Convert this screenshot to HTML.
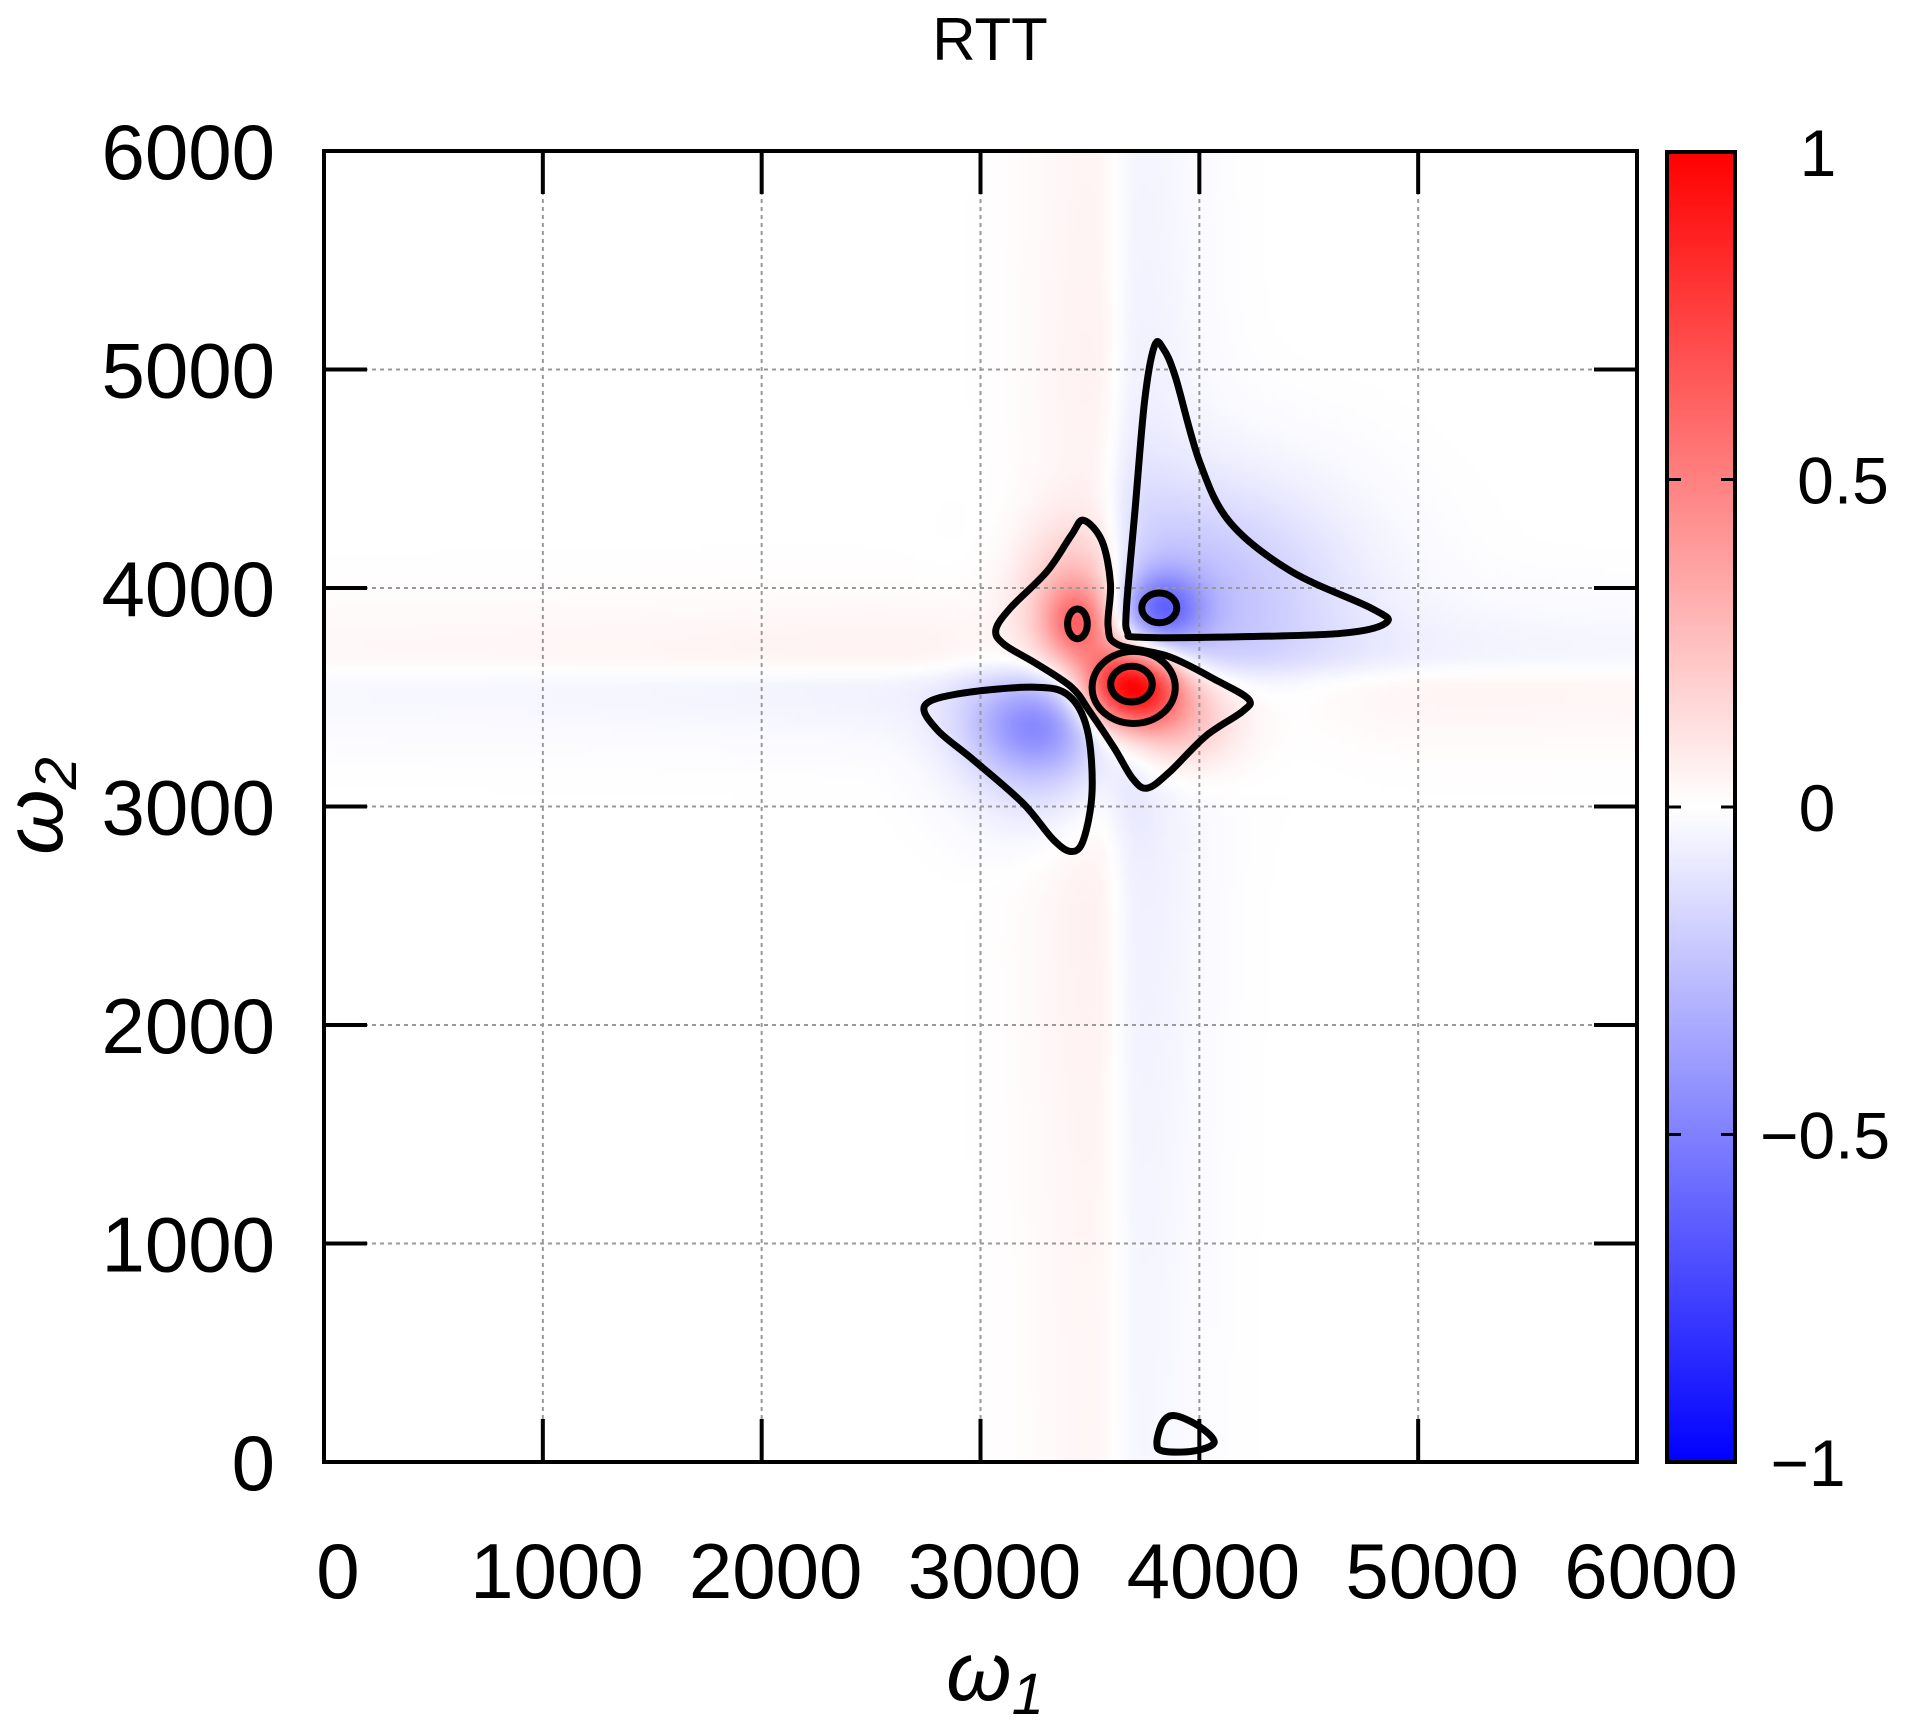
<!DOCTYPE html>
<html><head><meta charset="utf-8"><style>
html,body{margin:0;padding:0;background:#fff}
#wrap{position:relative;width:1905px;height:1728px;overflow:hidden;font-family:"Liberation Sans",sans-serif}
#heat{position:absolute;left:324px;top:151px;width:1313px;height:1311px}
#ov{position:absolute;left:0;top:0}
</style></head><body>
<div id="wrap">
<canvas id="heat" width="263" height="262"></canvas>
<svg id="ov" width="1905" height="1728"></svg>
</div>
<script>
// ---- data ----
const xTicks=[0,1000,2000,3000,4000,5000,6000];
const yTicks=[0,1000,2000,3000,4000,5000,6000];
const cbTicks=[1,0.5,0,-0.5,-1];
const cbLabels=["1","0.5","0","\u22120.5","\u22121"];
// field components (centers in data units)
const peakX=[3690,3440,3830,3260,3430,3880,4050,3300];
const peakY=[3550,3840,3900,3380,3950,3400,4000,3250];
const peakAmp=[1.0,0.35,-0.4,-0.3,0.3,0.3,-0.22,-0.2];
const peakSx=[150,100,130,220,180,200,450,250];
const peakSy=[130,120,120,150,250,160,350,250];
const bandV=[3620,0.08,130];   // center x, amp, width
const bandH=[3620,0.07,110];   // center y, amp, width
// contours (data units)
const contourBlueUpper={x:[3795,3750,3706,3667,3672,3722,4085,4643,4855,4783,4420,4141,4001,3890,3834],y:[5108,4857,4355,3909,3797,3775,3775,3792,3842,3909,4076,4299,4578,4968,5097]};
const contourRedOuter={x:[3471,3555,3594,3583,3628,3862,4085,4225,4197,4030,3862,3762,3695,3611,3499,3416,3248,3109,3070,3137,3304,3416],y:[4310,4215,4020,3825,3741,3686,3574,3491,3435,3323,3156,3084,3128,3268,3435,3546,3658,3741,3808,3909,4076,4243]};
const contourBlueLower={x:[2746,2913,3248,3404,3488,3510,3471,3416,3332,3192,2969,2802],y:[3463,3518,3546,3507,3351,3072,2849,2794,2849,3017,3212,3351]};
const contourBottom={x:[3806,3834,3890,4001,4068,3973,3834],y:[89,184,212,162,89,50,50]};
const ellipseCX=[3817,3443,3700,3690];
const ellipseCY=[3909,3836,3545,3560];
const ellipseRX=[80,45,190,95];
const ellipseRY=[68,68,165,82];

// ---- axes ----
const PL=324,PR=1637,PT=151,PB=1462;
const X=v=>PL+(v-0)/6000*(PR-PL);
const Y=v=>PB-(v-0)/6000*(PB-PT);
const CBT=152,CBB=1462,CBL=1667,CBR=1735;
const CY=v=>CBB-(v+1)/2*(CBB-CBT);

function field(x,y){
  let f=0;
  for(let i=0;i<peakX.length;i++){
    const dx=(x-peakX[i])/peakSx[i],dy=(y-peakY[i])/peakSy[i];
    f+=peakAmp[i]*Math.exp(-(dx*dx+dy*dy)/2);
  }
  const u=(x-bandV[0])/bandV[2];
  f+= -bandV[1]*Math.tanh(u*1.5)*Math.exp(-u*u/8)*(0.5+0.5*Math.exp(-Math.pow((y-3600)/2000,2)));
  const w=(y-bandH[0])/bandH[2];
  f+= -bandH[1]*Math.tanh(w*1.5)*Math.exp(-w*w/8)*Math.tanh((x-3600)/400)*(0.5+0.5*Math.exp(-Math.pow((x-3600)/2000,2)));
  return Math.max(-1,Math.min(1,f));
}
function col(v){
  if(v>=0){const k=Math.round(255*(1-v));return [255,k,k];}
  const k=Math.round(255*(1+v));return [k,k,255];
}
const cv=document.getElementById('heat'),ctx=cv.getContext('2d');
const img=ctx.createImageData(cv.width,cv.height);
for(let j=0;j<cv.height;j++)for(let i=0;i<cv.width;i++){
  const x=(i+0.5)/cv.width*6000,y=6000-(j+0.5)/cv.height*6000;
  const c=col(field(x,y));const p=(j*cv.width+i)*4;
  img.data[p]=c[0];img.data[p+1]=c[1];img.data[p+2]=c[2];img.data[p+3]=255;
}
ctx.putImageData(img,0,0);

const NS='http://www.w3.org/2000/svg',svg=document.getElementById('ov');
function el(t,a,parent){const e=document.createElementNS(NS,t);for(const k in a)e.setAttribute(k,a[k]);(parent||svg).appendChild(e);return e;}

// grid
xTicks.forEach((t,i)=>{
  if(i>0&&i<xTicks.length-1){const g=el('line',{x1:X(t),x2:X(t),y1:PT,y2:PB,stroke:'#999','stroke-width':2,'stroke-dasharray':'4 4'});
  
  }
});
yTicks.forEach((t,i)=>{
  if(i>0&&i<yTicks.length-1){const g=el('line',{x1:PL,x2:PR,y1:Y(t),y2:Y(t),stroke:'#999','stroke-width':2,'stroke-dasharray':'4 4'});
  
  }
});

// contours
function smooth(xs,ys){
  const P=xs.map((x,i)=>[X(x),Y(ys[i])]),n=P.length;let d=`M${P[0][0]},${P[0][1]}`;
  for(let i=0;i<n;i++){const p0=P[(i-1+n)%n],p1=P[i],p2=P[(i+1)%n],p3=P[(i+2)%n];
    d+=` C${p1[0]+(p2[0]-p0[0])/6},${p1[1]+(p2[1]-p0[1])/6} ${p2[0]-(p3[0]-p1[0])/6},${p2[1]-(p3[1]-p1[1])/6} ${p2[0]},${p2[1]}`;}
  return d+'Z';
}
[[contourBlueUpper,'contour-blue-upper'],[contourRedOuter,'contour-red-outer'],[contourBlueLower,'contour-blue-lower'],[contourBottom,'contour-bottom']].forEach(([c,n])=>{
  const p=el('path',{d:smooth(c.x,c.y),fill:'none',stroke:'#000','stroke-width':7,'stroke-linejoin':'round'});
  
  
});
ellipseCX.forEach((cx,i)=>{
  const e=el('ellipse',{cx:X(cx),cy:Y(ellipseCY[i]),rx:ellipseRX[i]/6000*(PR-PL),ry:ellipseRY[i]/6000*(PB-PT),fill:'none',stroke:'#000','stroke-width':7});
  
  
});

// border + ticks
const b=el('rect',{x:PL,y:PT,width:PR-PL,height:PB-PT,fill:'none',stroke:'#000','stroke-width':4});


xTicks.forEach(t=>{
  el('line',{x1:X(t),x2:X(t),y1:PB,y2:PB-43,stroke:'#000','stroke-width':4});
  el('line',{x1:X(t),x2:X(t),y1:PT,y2:PT+43,stroke:'#000','stroke-width':4});
  const tx=el('text',{x:X(t)+14,y:1598,'font-size':78,'text-anchor':'middle',fill:'#000'});
  tx.textContent=String(t);
  
  
});
yTicks.forEach(t=>{
  el('line',{x1:PL,x2:PL+43,y1:Y(t),y2:Y(t),stroke:'#000','stroke-width':4});
  el('line',{x1:PR,x2:PR-43,y1:Y(t),y2:Y(t),stroke:'#000','stroke-width':4});
  const ty=el('text',{x:275,y:Y(t)+28,'font-size':78,'text-anchor':'end',fill:'#000'});
  ty.textContent=String(t);
  
  
});

// colorbar
const defs=el('defs',{});
const lg=el('linearGradient',{id:'cbg',x1:0,y1:0,x2:0,y2:1},defs);
[0,0.25,0.5,0.75,1].forEach(o=>{const v=1-2*o,c=col(v);el('stop',{offset:o,'stop-color':`rgb(${c})`},lg);});
const cb=el('rect',{x:CBL,y:CBT,width:CBR-CBL,height:CBB-CBT,fill:'url(#cbg)',stroke:'#000','stroke-width':4});


const cbCenters=[1818,1843,1817,1825,1808];
cbTicks.forEach((t,i)=>{
  if(i>0&&i<cbTicks.length-1){
    el('line',{x1:CBL,x2:CBL+14,y1:CY(t),y2:CY(t),stroke:'#000','stroke-width':3});
    el('line',{x1:CBR,x2:CBR-14,y1:CY(t),y2:CY(t),stroke:'#000','stroke-width':3});
  }
  const l=el('text',{x:cbCenters[i],y:CY(t)+24,'font-size':66,'text-anchor':'middle',fill:'#000'});
  l.textContent=cbLabels[i];
  
  
});

// titles
const ti=el('text',{x:990,y:60,'font-size':60,'text-anchor':'middle',fill:'#000'});
ti.textContent='RTT';


const xt=el('text',{x:995,y:1700,'font-size':84,'text-anchor':'middle',fill:'#000','font-style':'italic'});
xt.innerHTML='ω<tspan font-size="58" dy="14">1</tspan>';


const yt=el('text',{x:0,y:0,'font-size':84,'text-anchor':'middle',fill:'#000','font-style':'italic',transform:'translate(62,806) rotate(-90)'});
yt.innerHTML='ω<tspan font-size="58" dy="14">2</tspan>';


</script>
</body></html>
